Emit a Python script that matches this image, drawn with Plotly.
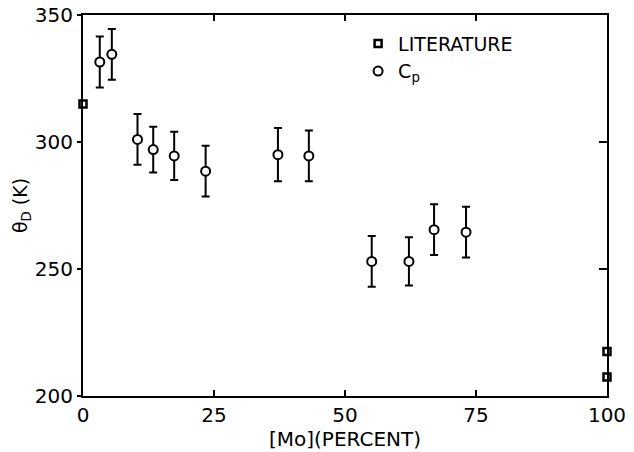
import plotly.graph_objects as go

# Data
cp_mo = [3.2, 5.5, 10.4, 13.4, 17.4, 23.4, 37.2, 43.1, 55.1, 62.2, 67.0, 73.1]
cp_theta = [331.5, 334.5, 301, 297, 294.5, 288.5, 295, 294.5, 253, 253, 265.5, 264.5]
cp_err = [10, 10, 10, 9, 9.5, 10, 10.5, 10, 10, 9.5, 10, 10]

lit_mo = [0, 100, 100]
lit_theta = [315, 217.5, 207.5]

x_ticks = [0, 25, 50, 75, 100]
y_ticks = [200, 250, 300, 350]

FONT = "DejaVu Sans"

fig = go.Figure()

fig.add_trace(go.Scatter(
    x=lit_mo, y=lit_theta, mode="markers", name="LITERATURE",
    marker=dict(symbol="square-open", size=7, color="black", line=dict(width=2.5, color="black")),
    cliponaxis=False,
))
fig.add_trace(go.Scatter(
    x=cp_mo, y=cp_theta, mode="markers", name="C<sub>p</sub>",
    marker=dict(symbol="circle", size=9, color="white", line=dict(width=2, color="black")),
    error_y=dict(type="data", array=cp_err, visible=True, color="black", thickness=2, width=4),
    cliponaxis=False,
))
# invisible trace to activate mirrored axes
fig.add_trace(go.Scatter(x=[None], y=[None], xaxis="x2", yaxis="y2", showlegend=False, hoverinfo="skip"))

axis_common = dict(showgrid=False, zeroline=False, showline=True, linecolor="black", linewidth=2,
                   tickcolor="black", tickwidth=2, automargin=False)

fig.update_layout(
    width=634, height=452,
    margin=dict(l=83, r=27, t=15, b=56),
    paper_bgcolor="white", plot_bgcolor="white",
    font=dict(family=FONT, size=20, color="black"),
    showlegend=True,
    legend=dict(x=0.525, y=0.975, xanchor="left", yanchor="top", bgcolor="rgba(0,0,0,0)",
                font=dict(family=FONT, size=19, color="black"), itemwidth=30,
                tracegroupgap=0),
    xaxis=dict(range=[0, 100], tickvals=x_ticks, ticktext=[str(v) for v in x_ticks],
               ticks="inside", ticklen=6,
               title=dict(text="[Mo](PERCENT)", font=dict(size=20), standoff=6),
               **axis_common),
    yaxis=dict(range=[200, 350], tickvals=y_ticks, ticktext=[str(v) for v in y_ticks],
               ticks="outside", ticklen=4,
               title=dict(text="θ<sub>D</sub> (K)", font=dict(size=19), standoff=2),
               **axis_common),
    xaxis2=dict(range=[0, 100], overlaying="x", side="top", tickvals=x_ticks, showticklabels=False,
                ticks="inside", ticklen=6, **axis_common),
    yaxis2=dict(range=[200, 350], overlaying="y", side="right", tickvals=y_ticks, showticklabels=False,
                ticks="inside", ticklen=8, **axis_common),
)

fig.write_html("out.html")
